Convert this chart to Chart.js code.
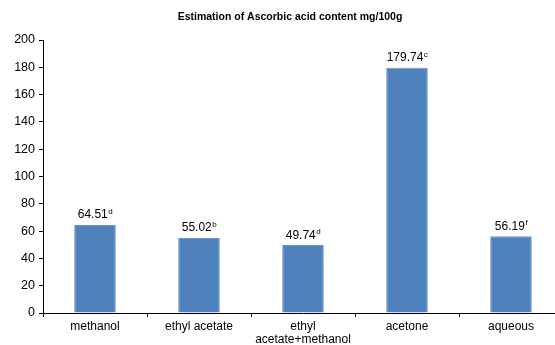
<!DOCTYPE html>
<html>
<head>
<meta charset="utf-8">
<script src="https://cdn.jsdelivr.net/npm/chart.js@4"></script>
<style>
  html, body { margin: 0; padding: 0; background: #fff; overflow: hidden; }
  #marco { width: 555px; height: 345px; overflow: hidden; position: relative; }
  #wrap { width: 565px; height: 345px; position: absolute; left: 0; top: 0; }
</style>
</head>
<body>
<div id="marco"><div id="wrap"><canvas id="grafica"></canvas></div></div>
<script>
// datos
const categorias = ['methanol', 'ethyl acetate', ['ethyl', 'acetate+methanol'], 'acetone', 'aqueous'];
const valores = [64.51, 55.02, 49.74, 179.74, 56.19];
const letras = ['d', 'b', 'd', 'c', 'f'];
const ticksY = [0, 20, 40, 60, 80, 100, 120, 140, 160, 180, 200];
const titulo = 'Estimation of Ascorbic acid content mg/100g';

const fuente = "'Liberation Sans', Arial, sans-serif";

// titulo dibujado a mano (centrado como en la figura original)
const tituloPlugin = {
  id: 'tituloPlugin',
  afterDraw(chart) {
    const ctx = chart.ctx;
    ctx.save();
    ctx.fillStyle = '#000';
    ctx.font = 'bold 10.5px ' + fuente;
    ctx.textAlign = 'center';
    ctx.textBaseline = 'middle';
    ctx.fillText(titulo, 290, 17.5);
    ctx.restore();
  }
};

// etiquetas encima de las barras con superindice
const etiquetasBarras = {
  id: 'etiquetasBarras',
  afterDatasetsDraw(chart) {
    const ctx = chart.ctx;
    const meta = chart.getDatasetMeta(0);
    ctx.save();
    ctx.fillStyle = '#000';
    ctx.textBaseline = 'alphabetic';
    meta.data.forEach((bar, i) => {
      const txt = valores[i].toFixed(2);
      const sup = letras[i];
      ctx.font = '12px ' + fuente;
      const w1 = ctx.measureText(txt).width;
      ctx.font = '8px ' + fuente;
      const w2 = ctx.measureText(sup).width;
      const x0 = bar.x - (w1 + w2) / 2;
      const y = bar.y - 6.5;
      ctx.font = '12px ' + fuente;
      ctx.textAlign = 'left';
      ctx.fillText(txt, x0, y);
      ctx.font = '8px ' + fuente;
      ctx.fillText(sup, x0 + w1 + 0.5, y - 4.5);
    });
    ctx.restore();
  }
};

new Chart(document.getElementById('grafica').getContext('2d'), {
  type: 'bar',
  data: {
    labels: categorias,
    datasets: [{
      data: valores,
      backgroundColor: '#4F81BD',
      borderColor: '#6A95C9',
      borderWidth: 1,
      barPercentage: 0.4,
      categoryPercentage: 1
    }]
  },
  options: {
    responsive: true,
    maintainAspectRatio: false,
    animation: false,
    layout: { padding: { left: 0, right: 2, top: 40, bottom: 0 } },
    plugins: {
      legend: { display: false },
      tooltip: { enabled: false },
      title: { display: false }
    },
    scales: {
      y: {
        min: 0,
        max: 200,
        afterFit: s => { s.width = 43; },
        afterBuildTicks: s => { s.ticks = ticksY.map(v => ({ value: v })); },
        grid: { drawOnChartArea: false, color: '#000', tickLength: 4, tickColor: '#000' },
        border: { color: '#000', width: 1 },
        ticks: { color: '#000', padding: 4, font: { family: fuente, size: 12.5 } }
      },
      x: {
        afterFit: s => { s.height = 32; },
        grid: { drawOnChartArea: false, offset: true, color: '#000', tickLength: 4, tickColor: '#000' },
        border: { color: '#000', width: 1 },
        ticks: { color: '#000', padding: 3, maxRotation: 0, font: { family: fuente, size: 12, lineHeight: 1.1 } }
      }
    }
  },
  plugins: [etiquetasBarras, tituloPlugin]
});
</script>
</body>
</html>
